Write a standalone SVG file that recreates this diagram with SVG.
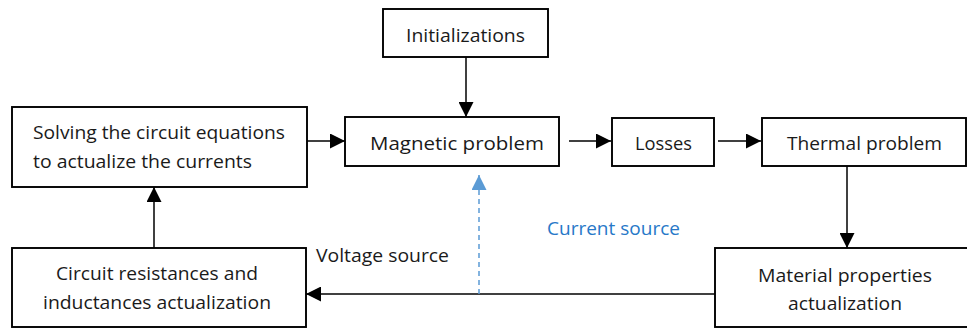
<svg xmlns="http://www.w3.org/2000/svg" width="967" height="329" viewBox="0 0 967 329">
<style>
.box{fill:#fff;stroke:#000;stroke-width:1.9}
.t{font-family:"Open Sans","Liberation Sans",sans-serif;font-size:17.5px;fill:#1a1a1a}
.c{text-anchor:middle}
.blue{fill:#2778C8}
.ln{stroke:#000;stroke-width:1.5;fill:none}
.dash{stroke:#5B9BD5;stroke-width:1.5;stroke-dasharray:5 4;fill:none}
</style>
<defs>
<marker id="ah" markerUnits="userSpaceOnUse" markerWidth="15" markerHeight="15" refX="15" refY="7.5" orient="auto">
<path d="M0,0 L15,7.5 L0,15 z" fill="#000"/>
</marker>
<marker id="ahb" markerUnits="userSpaceOnUse" markerWidth="15" markerHeight="15" refX="15" refY="7.5" orient="auto">
<path d="M0,0 L15,7.5 L0,15 z" fill="#5B9BD5"/>
</marker>
</defs>
<rect width="967" height="329" fill="#fff"/>
<g id="connectors">
<line class="ln" x1="466" y1="57" x2="466" y2="117" marker-end="url(#ah)"/>
<line class="ln" x1="307" y1="141" x2="345" y2="141" marker-end="url(#ah)"/>
<line class="ln" x1="569" y1="141" x2="611" y2="141" marker-end="url(#ah)"/>
<line class="ln" x1="718" y1="141" x2="761" y2="141" marker-end="url(#ah)"/>
<line class="ln" x1="847" y1="166" x2="847" y2="248" marker-end="url(#ah)"/>
<line class="ln" x1="715" y1="294" x2="306" y2="294" marker-end="url(#ah)"/>
<line class="ln" x1="154" y1="248" x2="154" y2="187" marker-end="url(#ah)"/>
<line class="dash" x1="479" y1="294" x2="479" y2="175" marker-end="url(#ahb)"/>
<text class="t" x="316" y="262" textLength="133" lengthAdjust="spacingAndGlyphs">Voltage source</text>
<text class="t blue" x="547" y="235" textLength="133" lengthAdjust="spacingAndGlyphs">Current source</text>
</g>
<g id="initializations">
<rect class="box" x="383" y="9" width="165" height="48"/>
<text class="t c" x="465.5" y="42" textLength="119" lengthAdjust="spacingAndGlyphs">Initializations</text>
</g>
<g id="solving">
<rect class="box" x="12" y="107" width="295" height="80"/>
<text class="t" x="33" y="139" textLength="252" lengthAdjust="spacingAndGlyphs">Solving the circuit equations</text>
<text class="t" x="33" y="168" textLength="219" lengthAdjust="spacingAndGlyphs">to actualize the currents</text>
</g>
<g id="magnetic">
<rect class="box" x="345" y="117" width="214" height="49"/>
<text class="t c" x="457" y="150" textLength="174" lengthAdjust="spacingAndGlyphs">Magnetic problem</text>
</g>
<g id="losses">
<rect class="box" x="612" y="118" width="102" height="48"/>
<text class="t c" x="663.5" y="150" textLength="57" lengthAdjust="spacingAndGlyphs">Losses</text>
</g>
<g id="thermal">
<rect class="box" x="762" y="118" width="204" height="48"/>
<text class="t c" x="864.5" y="150" textLength="155" lengthAdjust="spacingAndGlyphs">Thermal problem</text>
</g>
<g id="material">
<rect class="box" x="715" y="248" width="262" height="79"/>
<text class="t c" x="845" y="282" textLength="174" lengthAdjust="spacingAndGlyphs">Material properties</text>
<text class="t c" x="845" y="310" textLength="114" lengthAdjust="spacingAndGlyphs">actualization</text>
</g>
<g id="circuit">
<rect class="box" x="12" y="248" width="294" height="79"/>
<text class="t c" x="157" y="280" textLength="202" lengthAdjust="spacingAndGlyphs">Circuit resistances and</text>
<text class="t c" x="157" y="309" textLength="228" lengthAdjust="spacingAndGlyphs">inductances actualization</text>
</g>
</svg>
